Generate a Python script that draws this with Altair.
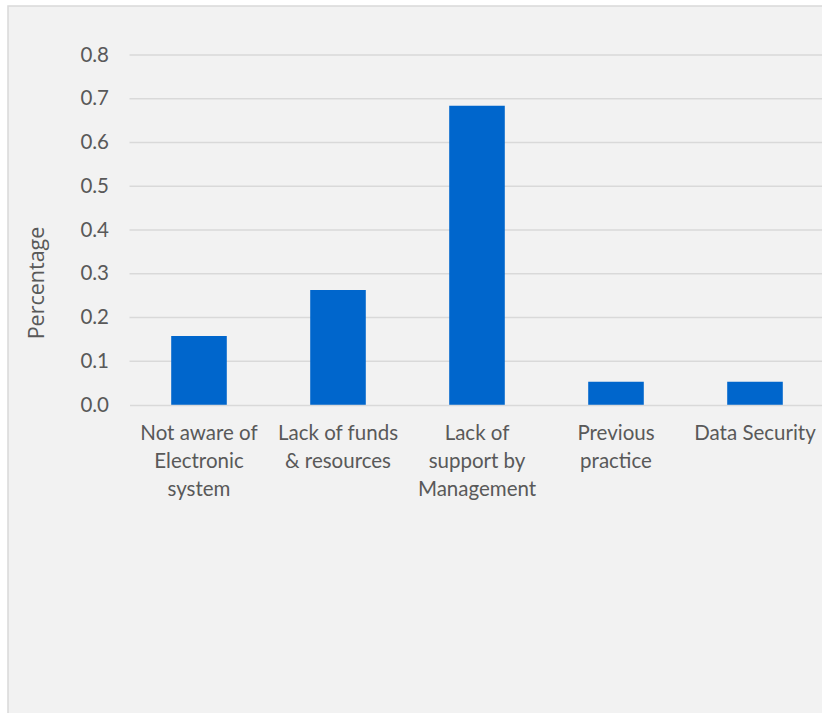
import altair as alt
import pandas as pd

categories = [
    "Not aware of\nElectronic\nsystem",
    "Lack of funds\n& resources",
    "Lack of\nsupport by\nManagement",
    "Previous\npractice",
    "Data Security",
]
values = [0.158, 0.263, 0.684, 0.053, 0.053]
y_ticks = [0.0, 0.1, 0.2, 0.3, 0.4, 0.5, 0.6, 0.7, 0.8]

df = pd.DataFrame({"category": categories, "value": values})
grid_df = pd.DataFrame({"value": y_ticks[1:]})

FONT = "Lato"
TXT = "#595959"
GRID = "#d9d9d9"

yscale = alt.Scale(domain=[0, 0.8], nice=False)
yaxis = alt.Axis(
    title="Percentage",
    values=y_ticks,
    format=".1f",
    labelFont=FONT,
    labelFontSize=20.5,
    labelColor=TXT,
    labelPadding=21,
    ticks=False,
    domain=False,
    grid=False,
    titleFont="Open Sans",
    titleFontSize=21.5,
    titleFontWeight="normal",
    titleColor=TXT,
    titleAngle=270,
    titleAlign="center",
    titleBaseline="middle",
    titleX=-92,
    titleY=227.5,
    zindex=1,
)

frame = alt.Chart(pd.DataFrame({"a": [0]})).mark_rect(
    fill="#f2f2f2", stroke=GRID, strokeWidth=1.5
).encode(
    x=alt.value(-121.5), x2=alt.value(900), y=alt.value(-49), y2=alt.value(900)
)

gridlines = alt.Chart(grid_df).mark_rule(color=GRID, strokeWidth=1.5).encode(
    y=alt.Y("value:Q", scale=yscale, axis=yaxis),
    x=alt.value(0),
    x2=alt.value(692.5),
)

bars = alt.Chart(df).mark_bar(color="#0066cc").encode(
    x=alt.X(
        "category:N",
        sort=categories,
        scale=alt.Scale(paddingInner=0.6, paddingOuter=0.3, range=[0, 695]),
        axis=alt.Axis(
            title=None,
            labelAngle=0,
            labelExpr="split(datum.label, '\\n')",
            labelFont=FONT,
            labelFontSize=20.5,
            labelColor=TXT,
            labelLineHeight=28,
            labelPadding=18,
            labelBaseline="top",
            ticks=False,
            domain=True,
            domainColor=GRID,
            domainWidth=1.5,
            grid=False,
            zindex=1,
        ),
    ),
    y=alt.Y("value:Q", scale=yscale, axis=yaxis),
)

chart = alt.layer(frame, gridlines, bars).properties(
    width=692.5,
    height=350,
    autosize=alt.AutoSizeParams(type="none"),
    padding={"left": 129.5, "top": 55, "right": 0, "bottom": 308},
    background="white",
).configure_view(stroke=None)

chart.save("out.html", embed_options={"renderer": "svg", "actions": False})
